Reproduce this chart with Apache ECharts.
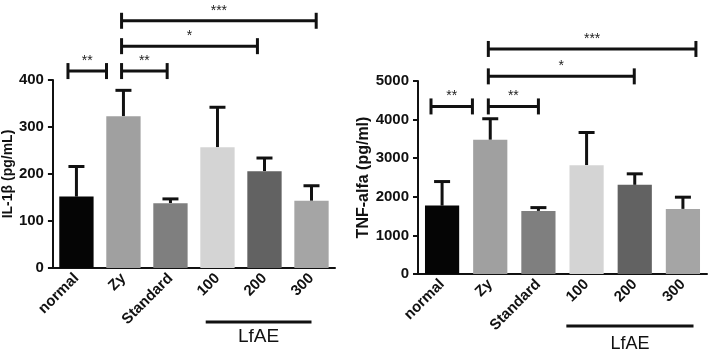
<!DOCTYPE html>
<html>
<head>
<meta charset="utf-8">
<script src="https://cdn.jsdelivr.net/npm/echarts@6/dist/echarts.min.js"></script>
<style>
html, body { margin: 0; padding: 0; background: #fff; }
#main { width: 709px; height: 352px; }
</style>
</head>
<body>
<div id="main"></div>
<script>
// 分组与颜色
var groups = ['normal', 'Zy', 'Standard', '100', '200', '300'];
var barColors = ['#050505', '#a0a0a0', '#7f7f7f', '#d4d4d4', '#626262', '#a5a5a5'];

// IL-1β 均值与误差上限
var il1bMean = [152, 323, 138, 257, 206, 143];
var il1bUpper = [216, 378, 147, 342, 234, 175];
// TNF-alfa 均值与误差上限
var tnfMean = [1772, 3477, 1635, 2820, 2309, 1687];
var tnfUpper = [2395, 4022, 1720, 3666, 2595, 1990];

// 显著性标记：起止位置（以类目为单位）、高度、星号
var il1bSigFrom = [-0.18, 0.96, 0.96, 0.96];
var il1bSigTo = [0.64, 1.93, 3.85, 5.1];
var il1bSigLevel = [419, 419, 472, 526];
var il1bSigText = ['**', '**', '*', '***'];

var tnfSigFrom = [-0.23, 0.96, 0.96, 0.96];
var tnfSigTo = [0.63, 2.0, 3.99, 5.27];
var tnfSigLevel = [4341, 4341, 5120, 5830];
var tnfSigText = ['**', '**', '*', '***'];

// LfAE 横线范围（类目单位）
var lfaeSpanLeft = [2.75, 5.0];
var lfaeSpanRight = [2.58, 5.22];

var ink = '#111';
var fontFam = '"Liberation Sans", Arial, sans-serif';

var myChart = echarts.init(document.getElementById('main'));

function errorItem() {
    return function (params, api) {
        var x = api.coord([api.value(0), api.value(1)])[0];
        var yTop = api.coord([api.value(0), api.value(1)])[1];
        var yMean = api.coord([api.value(0), api.value(2)])[1];
        return {
            type: 'group',
            children: [
                { type: 'line', shape: { x1: x, y1: yMean, x2: x, y2: yTop }, style: { stroke: ink, lineWidth: 3 } },
                { type: 'line', shape: { x1: x - 8, y1: yTop, x2: x + 8, y2: yTop }, style: { stroke: ink, lineWidth: 3 } }
            ]
        };
    };
}

function bracketItem(from, to, texts) {
    return function (params, api) {
        var i = params.dataIndex;
        var band = api.size([1, 0])[0];
        var x0 = api.coord([0, 0])[0];
        var xa = x0 + from[i] * band;
        var xb = x0 + to[i] * band;
        var y = api.coord([0, api.value(1)])[1];
        return {
            type: 'group',
            children: [
                { type: 'line', shape: { x1: xa, y1: y, x2: xb, y2: y }, style: { stroke: ink, lineWidth: 3 } },
                { type: 'line', shape: { x1: xa, y1: y - 8, x2: xa, y2: y + 8 }, style: { stroke: ink, lineWidth: 3 } },
                { type: 'line', shape: { x1: xb, y1: y - 8, x2: xb, y2: y + 8 }, style: { stroke: ink, lineWidth: 3 } },
                {
                    type: 'text', x: (xa + xb) / 2, y: y - 10,
                    style: { text: texts[i], fill: '#222', font: '14px ' + fontFam, textAlign: 'center', textVerticalAlign: 'middle' }
                }
            ]
        };
    };
}

function xAxisCfg(gridIndex) {
    return {
        type: 'category',
        gridIndex: gridIndex,
        data: groups,
        axisLine: { lineStyle: { color: ink, width: 2 } },
        axisTick: { alignWithLabel: true, length: 5, lineStyle: { color: ink, width: 2 } },
        axisLabel: {
            interval: 0, rotate: 45, margin: 8,
            color: ink, fontWeight: 'bold', fontSize: 15, fontFamily: fontFam
        }
    };
}

function yAxisCfg(gridIndex, max, interval, name, nameSize, nameGap) {
    return {
        type: 'value',
        gridIndex: gridIndex,
        min: 0,
        max: max,
        interval: interval,
        name: name,
        nameLocation: 'middle',
        nameGap: nameGap,
        nameTextStyle: { color: ink, fontWeight: 'bold', fontSize: nameSize, fontFamily: fontFam },
        axisLine: { show: true, lineStyle: { color: ink, width: 2 } },
        axisTick: { show: true, length: 5, lineStyle: { color: ink, width: 2 } },
        axisLabel: {
            color: ink, fontWeight: 'bold', fontSize: 15, margin: 9, fontFamily: fontFam,
            formatter: function (v) { return String(v); }
        },
        splitLine: { show: false }
    };
}

function barData(values) {
    return values.map(function (v, i) {
        return { value: v, itemStyle: { color: barColors[i] } };
    });
}

var option = {
    animation: false,
    backgroundColor: '#fff',
    grid: [
        { left: 49, right: 374, top: 80, bottom: 84 },
        { left: 418, right: 2, top: 81, bottom: 78 }
    ],
    xAxis: [xAxisCfg(0), xAxisCfg(1)],
    yAxis: [
        yAxisCfg(0, 400, 100, 'IL-1\u03b2 (pg/mL)', 14, 35),
        yAxisCfg(1, 5000, 1000, 'TNF-alfa (pg/ml)', 16, 44)
    ],
    series: [
        {
            type: 'bar', xAxisIndex: 0, yAxisIndex: 0,
            barCategoryGap: '27%',
            data: barData(il1bMean)
        },
        {
            type: 'custom', xAxisIndex: 0, yAxisIndex: 0,
            renderItem: errorItem(),
            encode: { x: 0, y: [1, 2] },
            data: il1bMean.map(function (m, i) { return [i, il1bUpper[i], m]; }),
            z: 1
        },
        {
            type: 'custom', xAxisIndex: 0, yAxisIndex: 0,
            renderItem: bracketItem(il1bSigFrom, il1bSigTo, il1bSigText),
            encode: { x: 0, y: 1 },
            clip: false,
            data: il1bSigLevel.map(function (v) { return [0, v]; })
        },
        {
            type: 'bar', xAxisIndex: 1, yAxisIndex: 1,
            barCategoryGap: '29%',
            data: barData(tnfMean)
        },
        {
            type: 'custom', xAxisIndex: 1, yAxisIndex: 1,
            renderItem: errorItem(),
            encode: { x: 0, y: [1, 2] },
            data: tnfMean.map(function (m, i) { return [i, tnfUpper[i], m]; }),
            z: 1
        },
        {
            type: 'custom', xAxisIndex: 1, yAxisIndex: 1,
            renderItem: bracketItem(tnfSigFrom, tnfSigTo, tnfSigText),
            encode: { x: 0, y: 1 },
            clip: false,
            data: tnfSigLevel.map(function (v) { return [0, v]; })
        }
    ]
};

myChart.setOption(option);

// LfAE 标注线
function spanPx(axisIndex, span) {
    var c0 = myChart.convertToPixel({ xAxisIndex: axisIndex }, 0);
    var c1 = myChart.convertToPixel({ xAxisIndex: axisIndex }, 1);
    var band = c1 - c0;
    return [c0 + span[0] * band, c0 + span[1] * band];
}
var l = spanPx(0, lfaeSpanLeft);
var r = spanPx(1, lfaeSpanRight);
myChart.setOption({
    graphic: [
        { type: 'line', shape: { x1: l[0], y1: 322, x2: l[1], y2: 322 }, style: { stroke: ink, lineWidth: 3 } },
        { type: 'text', x: (l[0] + l[1]) / 2, y: 337, style: { text: 'LfAE', fill: ink, font: '19px ' + fontFam, textAlign: 'center', textVerticalAlign: 'middle' } },
        { type: 'line', shape: { x1: r[0], y1: 326, x2: r[1], y2: 326 }, style: { stroke: ink, lineWidth: 3 } },
        { type: 'text', x: (r[0] + r[1]) / 2, y: 344, style: { text: 'LfAE', fill: ink, font: '18px ' + fontFam, textAlign: 'center', textVerticalAlign: 'middle' } }
    ]
});
</script>
</body>
</html>
